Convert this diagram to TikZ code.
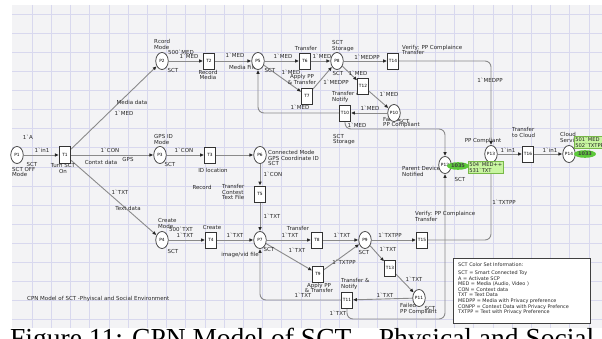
\documentclass[tikz,border=0pt]{standalone}
\usepackage{fontspec}
\setmainfont{DejaVu Sans}[Ligatures=TeXOff]
\newfontfamily\capfont{Liberation Serif}
\usetikzlibrary{arrows.meta,shapes.geometric}
\pgfdeclarelayer{gridlayer}
\pgfdeclarelayer{arclayer}
\pgfdeclarelayer{toplayer}
\pgfsetlayers{gridlayer,arclayer,main,toplayer}
\definecolor{gridbg}{HTML}{F3F3F5}
\definecolor{gridln}{HTML}{D8D8EE}
\definecolor{arcgray}{HTML}{8A8A8A}
\definecolor{tokgreen}{HTML}{5CC83A}
\definecolor{boxgreen}{HTML}{C8F5A0}
\definecolor{boxedge}{HTML}{78B848}
\tikzset{
 place/.style={ellipse, draw=black!80, fill=white, line width=0.7pt, minimum width=12.5pt, minimum height=17pt, inner sep=0pt, font=\fontsize{4.3}{5}\selectfont},
 trans/.style={rectangle, draw=black!80, fill=white, line width=0.7pt, minimum width=11pt, minimum height=16pt, inner sep=0pt, font=\fontsize{4.3}{5}\selectfont},
 lbl/.style={inner sep=0pt, font=\fontsize{5.5}{5.8}\selectfont, text=black!85, align=left},
 lgd/.style={inner sep=0pt, font=\fontsize{4.9}{5.6}\selectfont, text=black!85, align=left},
 arc/.style={draw=arcgray, line width=0.9pt, -{Latex[length=4pt,width=3.6pt,color=black!85]}},
 elbow/.style={arc, rounded corners=6pt},
 tok/.style={ellipse, fill=tokgreen, inner sep=0.8pt, font=\fontsize{5}{5.5}\selectfont\bfseries, text=black!75},
 tokbox/.style={rectangle, draw=boxedge, fill=boxgreen, line width=0.5pt, inner sep=1pt, align=left, font=\fontsize{5.2}{5.6}\selectfont, text=black!85},
}
\begin{document}
\begin{tikzpicture}[x=1pt,y=-1pt]
\useasboundingbox (0,0) rectangle (602,339);
\clip (0,0) rectangle (602,339);
\begin{pgfonlayer}{gridlayer}
 \fill[gridbg] (12,5) rectangle (602,328);
 \foreach \i in {0,...,29} \draw[gridln, line width=0.5pt] ({32+19.2*\i},5) -- ({32+19.2*\i},328);
 \foreach \j in {0,...,16} \draw[gridln, line width=0.5pt] (12,{14+19.1*\j}) -- (602,{14+19.1*\j});
\end{pgfonlayer}

% places and transitions
\node[place] (P1) at (17,155) {P1};
\node[trans, line width=1.1pt, minimum height=17pt] (T1) at (65,155) {T1};
\node[place] (P2) at (162,61) {P2};
\node[trans] (T2) at (209,61) {T2};
\node[place] (P5) at (258,61) {P5};
\node[trans] (T6) at (305,61) {T6};
\node[place] (P8) at (337,61) {P8};
\node[trans] (T14) at (393,61) {T14};
\node[trans] (T7) at (307,96) {T7};
\node[trans] (T12) at (363,86) {T12};
\node[place] (P10) at (394,113) {P10};
\node[trans] (T10) at (345,113) {T10};
\node[place] (P3) at (160,155) {P3};
\node[trans] (T3) at (210,155) {T3};
\node[place] (P6) at (260,155) {P6};
\node[trans] (T5) at (260,194) {T5};
\node[place] (P4) at (162,240) {P4};
\node[trans] (T4) at (211,240) {T4};
\node[place] (P7) at (260,240) {P7};
\node[trans] (T8) at (317,240) {T8};
\node[place] (P9) at (365,240) {P9};
\node[trans] (T15) at (422,240) {T15};
\node[trans] (T9) at (318,274) {T9};
\node[trans] (T13) at (390,268) {T13};
\node[place] (P11) at (419,298) {P11};
\node[trans] (T11) at (347,300) {T11};
\node[place] (P12) at (445,165) {P12};
\node[place] (P13) at (491,154) {P13};
\node[trans] (T16) at (528,154) {T16};
\node[place] (P14) at (569,154) {P14};
\coordinate (c1) at (445,129);
\coordinate (c2) at (445,319);

\begin{pgfonlayer}{arclayer}
\draw[arc] (P1) -- (T1);
\draw[arc] (T1) -- (P2);
\draw[arc] (T1) -- (P3);
\draw[arc] (T1) -- (P4);
\draw[arc] (P2) -- (T2);
\draw[arc] (T2) -- (P5);
\draw[arc] (P5) -- (T6);
\draw[arc] (T6) -- (P8);
\draw[arc] (P5) -- (T7);
\draw[arc] (T7) -- (P8);
\draw[arc] (P8) -- (T14);
\draw[arc] (P8) -- (T12);
\draw[arc] (T12) -- (P10);
\draw[arc] (P10) -- (T10);
\draw[elbow] (T10.west) -| (P5.south);
\draw[elbow] (T10.south) |- (c1) -- (P12.north);
\draw[elbow] (T14.east) -| (P13.north);
\draw[arc] (P3) -- (T3);
\draw[arc] (T3) -- (P6);
\draw[arc] (P6) -- (T5);
\draw[arc] (T5) -- (P7);
\draw[arc] (P4) -- (T4);
\draw[arc] (T4) -- (P7);
\draw[arc] (P7) -- (T8);
\draw[arc] (T8) -- (P9);
\draw[arc] (P7) -- (T9);
\draw[arc] (T9) -- (P9);
\draw[arc] (P9) -- (T15);
\draw[arc] (P9) -- (T13);
\draw[arc] (T13) -- (P11);
\draw[arc] (P11) -- (T11);
\draw[elbow] (T11.west) -| (P7.south);
\draw[elbow] (T11.south) |- (c2) -- (P12.south);
\draw[elbow] (T15.east) -| (P13.south);
\draw[arc] (P13) -- (T16);
\draw[arc] (T16) -- (P14);

% labels
\node[lbl, anchor=west] (l1) at (154,44.5) {Rcord\\Mode};
\node[lbl] (l2) at (181,52) {500`MED};
\node[lbl] (l3) at (189,56.5) {1`MED};
\node[lbl] (l4) at (173,71) {SCT};
\node[lbl] (l5) at (132,102) {Media data};
\node[lbl] (l6) at (124,113) {1`MED};
\node[lbl] (l7) at (28,137) {1`A};
\node[lbl] (l8) at (42,150) {1`in1};
\node[lbl] (l9) at (32,164.5) {SCT};
\node[lbl, anchor=west] (l10) at (12,172) {SCT OFF\\Mode};
\node[lbl, align=center] (l11) at (63,168.5) {Turn SCT\\On};
\node[lbl] (l12) at (110,150) {1`CON};
\node[lbl] (l13) at (101,162) {Contxt data};
\node[lbl] (l14) at (128,159) {GPS};
\node[lbl, anchor=west] (l15) at (154,139.5) {GPS ID\\Mode};
\node[lbl] (l16) at (184,150) {1`CON};
\node[lbl] (l17) at (170,164) {SCT};
\node[lbl] (l18) at (235,55) {1`MED};
\node[lbl, align=center] (l19) at (208,75) {Record\\Media};
\node[lbl, anchor=west] (l20) at (229,67) {Media File};
\node[lbl] (l21) at (270,70) {SCT};
\node[lbl] (l22) at (283,56) {1`MED};
\node[lbl] (l23) at (306,48) {Transfer};
\node[lbl] (l24) at (322,56) {1`MED};
\node[lbl, anchor=west] (l25) at (332,46) {SCT\\Storage};
\node[lbl] (l26) at (338,73) {SCT};
\node[lbl] (l27) at (367,57) {1`MEDPP};
\node[lbl] (l28) at (291,72) {1`MED};
\node[lbl, align=center] (l29) at (302,79.5) {Apply PP\\\& Transfer};
\node[lbl] (l30) at (336,82) {1`MEDPP};
\node[lbl] (l31) at (358,73) {1`MED};
\node[lbl] (l32) at (389,94) {1`MED};
\node[lbl, anchor=west] (l33) at (332,97) {Transfer \&\\Notify};
\node[lbl] (l34) at (300,107.5) {1`MED};
\node[lbl] (l35) at (370,108) {1`MED};
\node[lbl] (l36) at (357,125) {1`MED};
\node[lbl, anchor=west] (l37) at (383,122.5) {Failed\\PP Compliant};
\node[lbl] (l38) at (404,121) {SCT};
\node[lbl, anchor=west] (l39) at (333,139.5) {SCT\\Storage};
\node[lbl, anchor=west] (l40) at (268,158) {Connected Mode\\GPS Coordinate ID\\SCT};
\node[lbl, anchor=west] (l41) at (402,50) {Verify: PP Complaince\\Transfer};
\node[lbl] (l42) at (490,80) {1`MEDPP};
\node[lbl] (l43) at (483,141) {PP Compliant};
\node[lbl] (l44) at (508,150) {1`in1};
\node[lbl, anchor=west] (l45) at (512,132.5) {Transfer\\to Cloud};
\node[lbl] (l46) at (550,150) {1`in1};
\node[lbl, anchor=west] (l47) at (560,137.5) {Cloud\\Service};
\node[lbl, anchor=west] (l48) at (402,171.5) {Parent Device\\Notified};
\node[lbl] (l49) at (460,179) {SCT};
\node[lbl] (l50) at (213,170) {ID location};
\node[lbl] (l51) at (202,187) {Record};
\node[lbl, anchor=west] (l52) at (222,192) {Transfer\\Contest\\Text File};
\node[lbl] (l53) at (273,174) {1`CON};
\node[lbl] (l54) at (272,216) {1`TXT};
\node[lbl] (l55) at (120,192) {1`TXT};
\node[lbl] (l56) at (128,208) {Text data};
\node[lbl, anchor=west] (l57) at (158,223.5) {Create\\Mode};
\node[lbl] (l58) at (181,229.5) {500`TXT};
\node[lbl] (l59) at (185,235) {1`TXT};
\node[lbl] (l60) at (173,251) {SCT};
\node[lbl] (l61) at (212,227) {Create};
\node[lbl] (l62) at (235,235) {1`TXT};
\node[lbl] (l63) at (298,228) {Transfer};
\node[lbl] (l64) at (290,235) {1`TXT};
\node[lbl] (l65) at (342,235) {1`TXT};
\node[lbl] (l66) at (390,235) {1`TXTPP};
\node[lbl] (l67) at (269,249) {SCT};
\node[lbl] (l68) at (240,255) {image/vid file};
\node[lbl] (l69) at (297,250) {1`TXT};
\node[lbl] (l70) at (344,262) {1`TXTPP};
\node[lbl] (l71) at (364,252) {SCT};
\node[lbl] (l72) at (388,249) {1`TXT};
\node[lbl, align=center] (l73) at (319,288) {Apply PP\\\& Transfer};
\node[lbl, anchor=west] (l74) at (341,284) {Transfer \&\\Notify};
\node[lbl] (l75) at (303,295) {1`TXT};
\node[lbl] (l76) at (385,295) {1`TXT};
\node[lbl] (l77) at (338,313) {1`TXT};
\node[lbl] (l78) at (414,279) {1`TXT};
\node[lbl, anchor=west] (l79) at (400,309) {Failed\\PP Compliant};
\node[lbl] (l80) at (430,308) {SCT};
\node[lbl] (l81) at (504,202) {1`TXTPP};
\node[lbl, anchor=west] (l82) at (415,216.5) {Verify: PP Complaince\\Transfer};
\node[lbl, anchor=west] (l83) at (27,299) {CPN Model of SCT -Phyiscal and Social Environment};
\end{pgfonlayer}

% legend
\node[draw=black!75, fill=white, line width=0.8pt, minimum width=137pt, minimum height=65pt, anchor=north west, inner sep=0pt] (legend) at (453,258) {};
\node[lgd, anchor=west] (lh) at (458,265) {SCT Color Set Information:};
\node[lgd, anchor=north west] (lb) at (458,270.5) {SCT = Smart Connected Toy\\A = Activate SCP\\MED = Media (Audio, Video )\\CON = Context data\\TXT = Text Data\\MEDPP = Media with Privacy preference\\CONPP = Context Data with Privacy Prefence\\TXTPP = Text with Privacy Preference};

% tokens
\begin{pgfonlayer}{toplayer}
\node[tokbox, anchor=west] (m13) at (468,167.5) {504`MED++\\531`TXT};
\node[tok] (k12) at (458,166) {1035};
\node[tokbox, anchor=west] (m14) at (574,142.5) {501`MED\\502`TXTPP};
\node[tok] (k14) at (585,154) {1033};
\end{pgfonlayer}

% caption
\node[anchor=base west, inner sep=0pt, font=\capfont\fontsize{27.5}{30}\selectfont] (cap) at (10,347) {Figure 11: CPN Model of SCT – Physical and Social};
\end{tikzpicture}
\end{document}
